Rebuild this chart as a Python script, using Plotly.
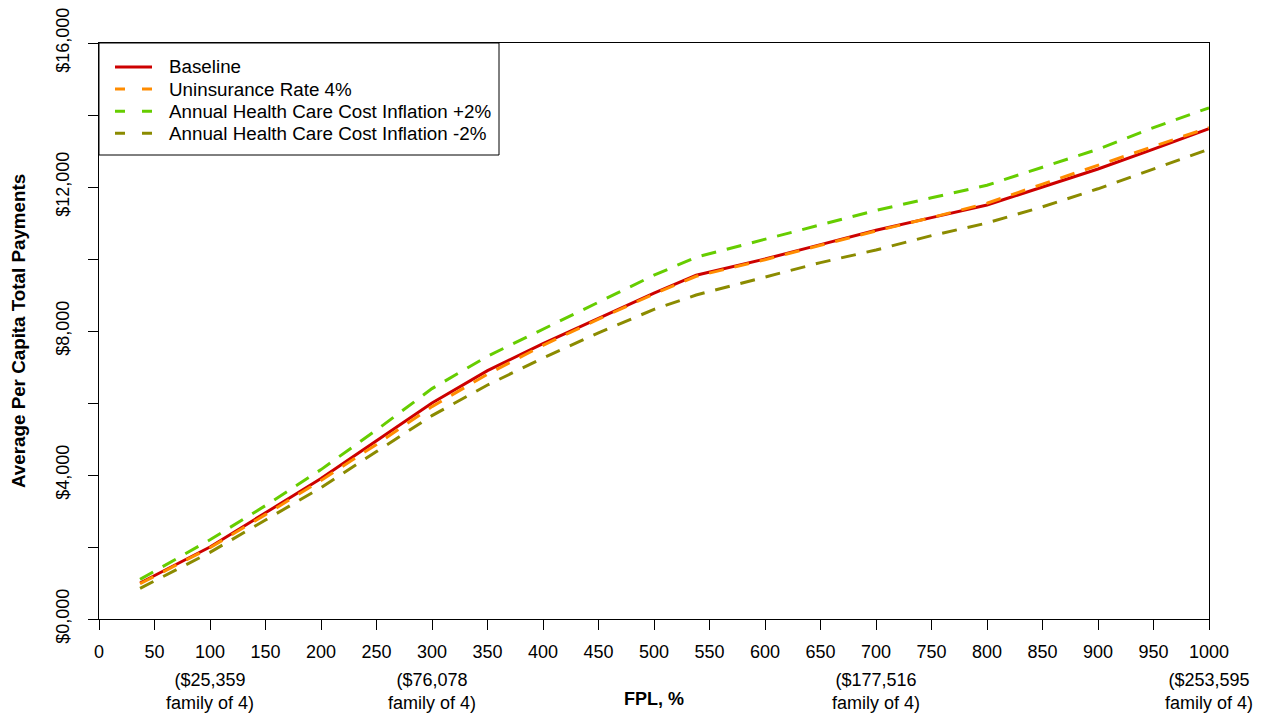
import plotly.graph_objects as go

# FPL (%) points
fpl = [37, 100, 150, 200, 250, 300, 350, 400, 450, 500, 538,
       600, 650, 700, 750, 800, 850, 900, 950, 1000]

baseline = [1000, 2000, 2950, 3900, 4950, 6000, 6900, 7650, 8350, 9050, 9550,
            10000, 10400, 10800, 11150, 11500, 12000, 12500, 13050, 13620]
uninsured_4 = [980, 1980, 2900, 3850, 4850, 5900, 6800, 7600, 8330, 9030, 9520,
               9980, 10380, 10780, 11150, 11550, 12080, 12600, 13120, 13650]
inflation_plus2 = [1100, 2200, 3150, 4150, 5250, 6400, 7300, 8050, 8800, 9550, 10050,
                   10550, 10950, 11350, 11700, 12050, 12550, 13050, 13650, 14200]
inflation_minus2 = [850, 1850, 2750, 3650, 4650, 5650, 6500, 7250, 7950, 8600, 9000,
                    9500, 9900, 10250, 10650, 11000, 11450, 11950, 12500, 13050]

y_ticks = [0, 2000, 4000, 6000, 8000, 10000, 12000, 14000, 16000]
y_labels = ["$0,000", "", "$4,000", "", "$8,000", "", "$12,000", "", "$16,000"]

income_pos = [100, 300, 700, 1000]
income_labels = ["($25,359", "($76,078", "($177,516", "($253,595"]

series = [
    ("Baseline", baseline, "#CD0000", "solid"),
    ("Uninsurance Rate 4%", uninsured_4, "#FF8C00", "15px,11px"),
    ("Annual Health Care Cost Inflation +2%", inflation_plus2, "#66CD00", "15px,11px"),
    ("Annual Health Care Cost Inflation -2%", inflation_minus2, "#8B8B00", "15px,11px"),
]

# plot area size in px (page has an 8px body margin)
W, H = 1256, 709
ML, MR, MT, MB = 91, 55, 35, 98
PW, PH = W - ML - MR, H - MT - MB

fig = go.Figure()
for name, vals, col, dash in series:
    fig.add_trace(go.Scatter(x=fpl, y=vals, name=name, mode="lines",
                             showlegend=False,
                             line=dict(color=col, width=3, dash=dash)))

# legend drawn by hand, R style
fig.add_shape(type="rect", xref="paper", yref="paper", layer="above",
              x0=0, x1=400 / PW, y0=1 - 112 / PH, y1=1,
              line=dict(color="black", width=1), fillcolor="white")
for i, (name, vals, col, dash) in enumerate(series):
    yy = 1 - (24 + 22.1 * i) / PH
    fig.add_shape(type="line", xref="paper", yref="paper", layer="above",
                  x0=16 / PW, x1=53 / PW, y0=yy, y1=yy,
                  line=dict(color=col, width=3,
                            dash="solid" if dash == "solid" else "10px,17px"))
    fig.add_annotation(x=68 / PW, y=yy, xref="paper", yref="paper",
                       text=name, showarrow=False, xanchor="left", yanchor="middle",
                       font=dict(size=18.8, color="black"))

for pos, lab in zip(income_pos, income_labels):
    fig.add_annotation(x=pos, y=0, xref="x", yref="paper", yshift=-49,
                       text=lab + "<br>family of 4)", showarrow=False,
                       yanchor="top", font=dict(size=18, color="black"))

fig.add_annotation(x=0.5, y=0, xref="paper", yref="paper", yshift=-68,
                   text="<b>FPL, %</b>", showarrow=False, yanchor="top",
                   font=dict(size=18, color="black"))

fig.add_annotation(x=0, y=0.5, xref="paper", yref="paper", xshift=-81,
                   xanchor="center", yanchor="middle",
                   text="<b>Average Per Capita Total Payments</b>", textangle=-90,
                   showarrow=False, font=dict(size=18.8, color="black"))

fig.update_layout(
    width=W, height=H,
    margin=dict(l=ML, r=MR, t=MT, b=MB),
    plot_bgcolor="white", paper_bgcolor="white",
    font=dict(family="Liberation Sans, Arial, sans-serif", size=18, color="black"),
    showlegend=False,
    xaxis=dict(range=[0, 1000], tickmode="linear", tick0=0, dtick=50,
               ticks="outside", ticklen=10, tickcolor="black",
               ticklabelstandoff=6, automargin=False, ticklabeloverflow="allow",
               showline=True, linecolor="black", linewidth=1, mirror=True,
               showgrid=False, zeroline=False),
    yaxis=dict(range=[0, 16000], tickvals=y_ticks, ticktext=y_labels,
               tickangle=-90, ticks="outside", ticklen=10, tickcolor="black",
               ticklabelstandoff=12, automargin=False, ticklabeloverflow="allow",
               showline=True, linecolor="black", linewidth=1, mirror=True,
               showgrid=False, zeroline=False),
)

fig.write_html("out.html")
